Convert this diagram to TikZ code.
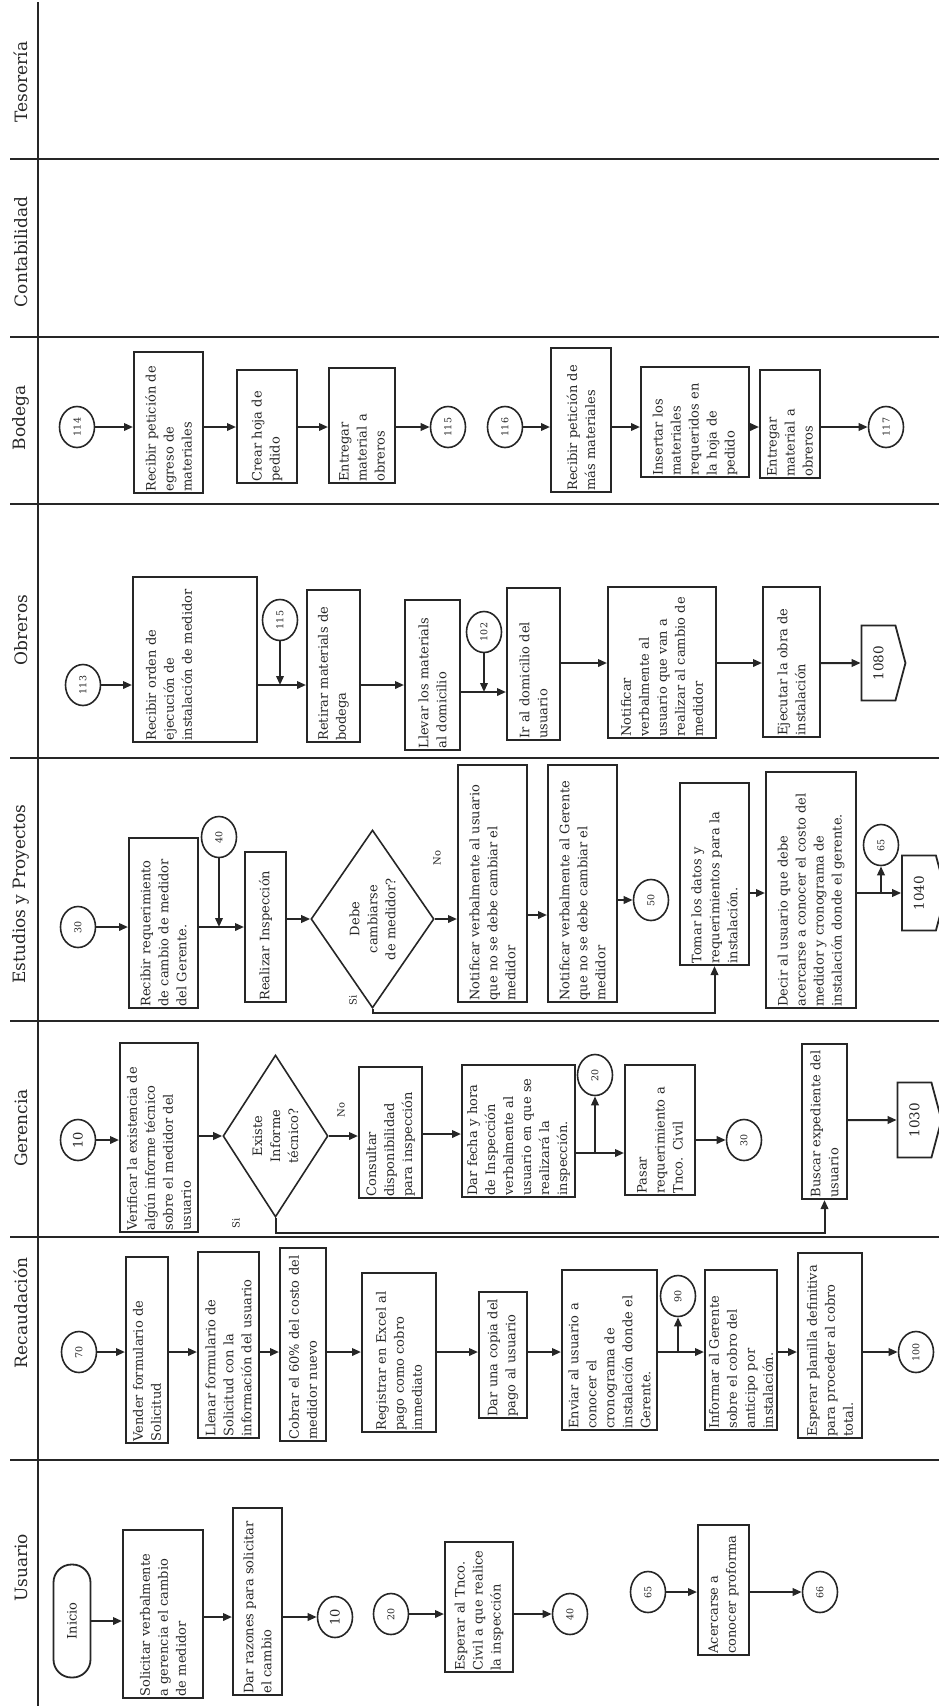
\documentclass[tikz,border=0pt]{standalone}
\usepackage{fontspec}
\setmainfont{DejaVu Serif}
\usetikzlibrary{shapes.geometric,shapes.symbols,arrows.meta}
\newcommand{\bx}[6]{%
  \pgfmathsetmacro{\bxcx}{(#2+#3)/2}%
  \pgfmathsetmacro{\bxcy}{-(#4+#5)/2}%
  \pgfmathsetmacro{\bxw}{#5-#4}%
  \pgfmathsetmacro{\bxh}{#3-#2}%
  \pgfmathsetmacro{\bxtw}{#5-#4-3}%
  \node[box, minimum width=\bxw pt, minimum height=\bxh pt, text width=\bxtw pt] (#1) at (\bxcx,\bxcy) {#6};%
}
\begin{document}
\begin{tikzpicture}[x=1pt,y=1pt,
  lane/.style={draw=black!85, line width=2.4pt},
  lanelbl/.style={rotate=90, text=black!85, font=\fontsize{17}{20}\selectfont},
  box/.style={draw=black!85, line width=2pt, rotate=90, text=black!85, font=\fontsize{13}{18}\selectfont, align=left, inner xsep=1.5pt, inner ysep=2pt},
  conn/.style={ellipse, draw=black!85, line width=1.6pt, rotate=90, inner sep=0pt, minimum width=41pt, minimum height=35pt, text=black!85, font=\fontsize{9.5}{11}\selectfont},
  big/.style={font=\fontsize{13}{15}\selectfont},
  dia/.style={diamond, draw=black!85, line width=1.6pt, rotate=90, inner sep=1pt, align=center, text=black!85, font=\fontsize{13}{18}\selectfont},
  off/.style={signal, signal to=south, signal pointer angle=150, draw=black!85, line width=1.8pt, rotate=90, inner sep=2pt, minimum width=75pt, minimum height=39pt, text=black!85, font=\fontsize{13.5}{16}\selectfont},
  term/.style={rectangle, rounded corners=18pt, draw=black!85, line width=1.8pt, rotate=90, minimum width=113pt, minimum height=37pt, text=black!85, font=\fontsize{13}{16}\selectfont},
  small/.style={rotate=90, text=black!85, font=\fontsize{10}{12}\selectfont},
  arr/.style={draw=black!85, line width=2pt, -{Triangle[length=9pt,width=7.5pt]}}
]
\useasboundingbox (0,0) rectangle (939,-1706);

% swimlane frame
\draw[lane] (38,-2) -- (38,-1706);
\foreach \yy in {159,337,504,758,1021,1237,1460} \draw[lane] (10,-\yy) -- (939,-\yy);
\node[lanelbl] (lTes) at (21,-82) {Tesorería};
\node[lanelbl] (lCon) at (21,-252) {Contabilidad};
\node[lanelbl] (lBod) at (21,-418) {Bodega};
\node[lanelbl] (lObr) at (21,-630) {Obreros};
\node[lanelbl] (lEst) at (21,-894) {Estudios y Proyectos};
\node[lanelbl] (lGer) at (21,-1128) {Gerencia};
\node[lanelbl] (lRec) at (21,-1313) {Recaudación};
\node[lanelbl] (lUsu) at (21,-1568) {Usuario};

% ---------------- Bodega
\coordinate (yB) at (0,-427);
\node[conn] (b114) at (77,-427) {114};
\bx{b1}{134}{203}{352}{493}{Recibir petición de\\egreso de\\materiales}
\bx{b2}{237}{297}{370}{483}{Crear hoja de\\pedido}
\bx{b3}{329}{395}{368}{483}{Entregar\\material a\\obreros}
\node[conn] (b115) at (448,-427) {115};
\node[conn] (b116) at (505,-427) {116};
\bx{b4}{551}{611}{348}{492}{Recibir petición de\\más materiales}
\bx{b5}{641}{749}{367}{477}{Insertar los\\materiales\\requeridos en\\la hoja de\\pedido}
\bx{b6}{760}{820}{370}{478}{Entregar\\material a\\obreros}
\node[conn] (b117) at (886,-427) {117};
\draw[arr] (b114) -- (b114 -| b1.north);
\draw[arr] (b1.south |- yB) -- (b2.north |- yB);
\draw[arr] (b2.south |- yB) -- (b3.north |- yB);
\draw[arr] (b3.south |- b115) -- (b115);
\draw[arr] (b116) -- (b116 -| b4.north);
\draw[arr] (b4.south |- yB) -- (b5.north |- yB);
\draw[arr] (b5.south |- yB) -- (b6.north |- yB);
\draw[arr] (b6.south |- b117) -- (b117);

% ---------------- Obreros
\coordinate (yO1) at (0,-685);
\coordinate (yO2) at (0,-692);
\coordinate (yO3) at (0,-663);
\node[conn] (o113) at (83,-685) {113};
\bx{o1}{133}{257}{577}{742}{Recibir orden de\\ejecución de\\instalación de medidor\\[34pt]\mbox{}}
\node[conn] (o115) at (280,-620) {115};
\bx{o2}{307}{360}{590}{742}{Retirar materials de\\bodega}
\bx{o3}{405}{460}{600}{750}{Llevar los materials\\al domicilio}
\node[conn] (o102) at (484,-632) {102};
\bx{o4}{507}{560}{588}{740}{Ir al domicilio del\\usuario}
\bx{o5}{608}{716}{587}{738}{Notificar\\verbalmente al\\usuario que van a\\realizar al cambio de\\medidor}
\bx{o6}{763}{820}{587}{737}{Ejecutar la obra de\\instalación}
\node[off] (o1080) at (878.5,-663) {1080};
\draw[arr] (o113) -- (o113 -| o1.north);
\draw[arr] (o1.south |- yO1) -- (o2.north |- yO1);
\draw[arr] (o115) -- (o115 |- yO1);
\draw[arr] (o2.south |- yO1) -- (o3.north |- yO1);
\draw[arr] (o3.south |- yO2) -- (o4.north |- yO2);
\draw[arr] (o102) -- (o102 |- yO2);
\draw[arr] (o4.south |- yO3) -- (o5.north |- yO3);
\draw[arr] (o5.south |- yO3) -- (o6.north |- yO3);
\draw[arr] (o6.south |- o1080) -- (o1080);

% ---------------- Estudios y Proyectos
\coordinate (yE1) at (0,-927);
\coordinate (yE2) at (0,-915);
\coordinate (yE3) at (0,-893);
\coordinate (ySiE) at (0,-1013);
\node[conn] (e30) at (78,-927) {30};
\bx{e1}{129}{198}{838}{1008}{Recibir requerimiento\\de cambio de medidor\\del Gerente.}
\node[conn] (e40) at (219,-837) {40};
\bx{e2}{245}{286}{852}{1002}{Realizar Inspección}
\node[dia, minimum width=178pt, minimum height=123pt, aspect=1.45] (ed) at (372.5,-919) {Debe\\cambiarse\\de medidor?};
\bx{e3}{458}{527}{765}{1002}{Notificar verbalmente al usuario\\que no se debe cambiar el\\medidor}
\bx{e4}{548}{617}{765}{1002}{Notificar verbalmente al Gerente\\que no se debe cambiar el\\medidor}
\node[conn] (e50) at (651,-900) {50};
\bx{e5}{680}{749}{783}{965}{Tomar los datos y\\requerimientos para la\\instalación.}
\bx{e6}{766}{856}{772}{1008}{Decir al usuario que debe\\acercarse a conocer el costo del\\medidor y cronograma de\\instalación donde el gerente.}
\node[off] (e1040) at (919,-893) {1040};
\node[conn] (e65) at (881,-845) {65};
\node[small] (eNo) at (437,-858) {No};
\node[small] (eSi) at (353,-1000) {Si};
\draw[arr] (e30) -- (e30 -| e1.north);
\draw[arr] (e1.south |- yE1) -- (e2.north |- yE1);
\draw[arr] (e40) -- (e40 |- yE1);
\draw[arr] (e2.south |- ed.north) -- (ed.north);
\draw[arr] (ed.south) -- (ed.south -| e3.north);
\draw[arr] (e3.south |- yE2) -- (e4.north |- yE2);
\draw[arr] (e4.south |- e50) -- (e50);
\draw[arr] (ed.west) -- (ed.west |- ySiE) -| (e5.west);
\draw[arr] (e5.south |- yE3) -- (e6.north |- yE3);
\draw[arr] (e6.south |- e1040) -- (e1040);
\draw[arr] (e65 |- e1040) -- (e65);

% ---------------- Gerencia
\coordinate (yG1) at (0,-1134);
\coordinate (yG2) at (0,-1153);
\coordinate (ySiG) at (0,-1233);
\node[conn, big] (g10) at (78,-1140) {10};
\bx{g1}{120}{198}{1043}{1232}{Verificar la existencia de\\algún informe técnico\\sobre el medidor del\\usuario}
\node[dia, minimum width=162pt, minimum height=105pt, aspect=1.54] (gd) at (275.5,-1136) {Existe\\Informe\\técnico?};
\bx{g2}{359}{422}{1067}{1198}{Consultar\\disponibilidad\\para inspección}
\bx{g3}{462}{575}{1065}{1197}{Dar fecha y hora\\de Inspección\\verbalmente al\\usuario en que se\\realizará la\\inspección.}
\node[conn] (g20) at (595,-1075) {20};
\bx{g4}{625}{695}{1065}{1195}{Pasar\\requerimiento a\\Tnco. Civil}
\node[conn] (g30) at (744,-1140) {30};
\bx{g5}{802}{847}{1044}{1199}{\mbox{Buscar expediente del}\\usuario}
\node[off] (g1030) at (914.5,-1120) {1030};
\node[small] (gNo) at (341,-1110) {No};
\node[small] (gSi) at (236,-1223) {Si};
\draw[arr] (g10) -- (g10 -| g1.north);
\draw[arr] (g1.south |- gd.north) -- (gd.north);
\draw[arr] (gd.south) -- (gd.south -| g2.north);
\draw[arr] (g2.south |- yG1) -- (g3.north |- yG1);
\draw[arr] (g3.south |- yG2) -- (g4.north |- yG2);
\draw[arr] (g20 |- yG2) -- (g20);
\draw[arr] (g4.south |- g30) -- (g30);
\draw[arr] (gd.west) -- (gd.west |- ySiG) -| (g5.west);
\draw[arr] (g5.south |- g1030) -- (g1030);

% ---------------- Recaudacion
\coordinate (yR) at (0,-1352);
\node[conn] (r70) at (79,-1352) {70};
\bx{r1}{126}{168}{1257}{1443}{Vender formulario de\\Solicitud}
\bx{r2}{198}{259}{1252}{1438}{Llenar formulario de\\Solicitud con la\\información del usuario}
\bx{r3}{280}{326}{1248}{1441}{\mbox{Cobrar el 60\% del costo del}\\medidor nuevo}
\bx{r4}{362}{436}{1273}{1432}{Registrar en Excel al\\pago como cobro\\inmediato}
\bx{r5}{479}{527}{1292}{1418}{\mbox{Dar una copia del}\\pago al usuario}
\bx{r6}{562}{657}{1270}{1430}{Enviar al usuario a\\conocer el\\cronograma de\\instalación donde el\\Gerente.}
\node[conn] (r90) at (678,-1296) {90};
\bx{r7}{705}{777}{1270}{1430}{Informar al Gerente\\sobre el cobro del\\anticipo por\\instalación.}
\bx{r8}{798}{862}{1253}{1438}{Esperar planilla definitiva\\para proceder al cobro\\total.}
\node[conn] (r100) at (916,-1352) {100};
\draw[arr] (r70) -- (r70 -| r1.north);
\draw[arr] (r1.south |- yR) -- (r2.north |- yR);
\draw[arr] (r2.south |- yR) -- (r3.north |- yR);
\draw[arr] (r3.south |- yR) -- (r4.north |- yR);
\draw[arr] (r4.south |- yR) -- (r5.north |- yR);
\draw[arr] (r5.south |- yR) -- (r6.north |- yR);
\draw[arr] (r6.south |- yR) -- (r7.north |- yR);
\draw[arr] (r90 |- yR) -- (r90);
\draw[arr] (r7.south |- yR) -- (r8.north |- yR);
\draw[arr] (r8.south |- r100) -- (r100);

% ---------------- Usuario
\node[term] (u0) at (72,-1621) {Inicio};
\bx{u1}{123}{203}{1530}{1698}{Solicitar verbalmente\\a gerencia el cambio\\de medidor}
\bx{u2}{233}{282}{1508}{1695}{Dar razones para solicitar\\el cambio}
\node[conn, big] (u10) at (335,-1617) {10};
\node[conn] (u20) at (391,-1614) {20};
\bx{u3}{445}{513}{1542}{1672}{Esperar al Tnco.\\\mbox{Civil a que realice}\\la inspección}
\node[conn] (u40) at (570,-1614) {40};
\node[conn] (u65) at (648,-1592) {65};
\bx{u4}{698}{749}{1525}{1655}{Acercarse a\\conocer proforma}
\node[conn] (u66) at (820,-1592) {66};
\draw[arr] (u0) -- (u0 -| u1.north);
\draw[arr] (u1.south |- u10) -- (u2.north |- u10);
\draw[arr] (u2.south |- u10) -- (u10);
\draw[arr] (u20) -- (u20 -| u3.north);
\draw[arr] (u3.south |- u40) -- (u40);
\draw[arr] (u65) -- (u65 -| u4.north);
\draw[arr] (u4.south |- u66) -- (u66);
\end{tikzpicture}
\end{document}
